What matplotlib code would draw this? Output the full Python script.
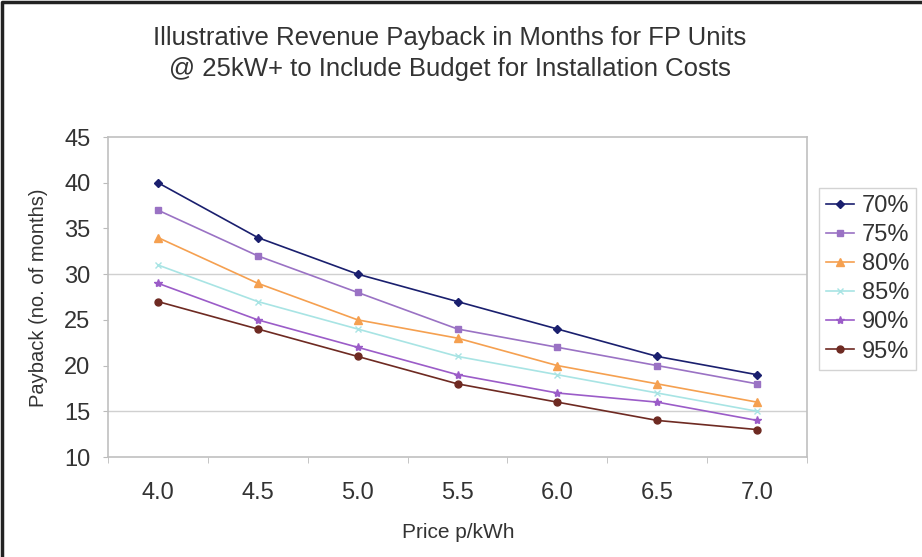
import matplotlib
matplotlib.use("Agg")
import matplotlib.pyplot as plt
from matplotlib.lines import Line2D
import numpy as np

plt.rcParams['font.family'] = ['Liberation Sans', 'DejaVu Sans']

prices = ["4.0", "4.5", "5.0", "5.5", "6.0", "6.5", "7.0"]
s70 = [40, 34, 30, 27, 24, 21, 19]
s75 = [37, 32, 28, 24, 22, 20, 18]
s80 = [34, 29, 25, 23, 20, 18, 16]
s85 = [31, 27, 24, 21, 19, 17, 15]
s90 = [29, 25, 22, 19, 17, 16, 14]
s95 = [27, 24, 21, 18, 16, 14, 13]
labels = ["70%", "75%", "80%", "85%", "90%", "95%"]
series = [s70, s75, s80, s85, s90, s95]
colors = ["#1a1f6e", "#9a72c4", "#f5a050", "#a8e4e4", "#9b5cc8", "#6e2a22"]
markers = ["D", "s", "^", "x", "*", "o"]
msizes = [4, 5, 6, 5, 6, 5]

W, H = 922, 557
fig = plt.figure(figsize=(W / 100, H / 100), dpi=100)
ax = fig.add_axes([108 / W, 1 - 457 / H, (807 - 108) / W, (457 - 137) / H])

x = np.arange(len(prices))
for vals, lab, c, m, ms in zip(series, labels, colors, markers, msizes):
    ax.plot(x, vals, color=c, marker=m, markersize=ms, linewidth=1.2, label=lab)

ax.set_xlim(-0.5, len(prices) - 0.5)
ax.set_ylim(10, 45)
ax.set_yticks(range(10, 46, 5))
ax.set_xticks(x)
ax.set_xticklabels(prices)
ax.set_xticks(np.arange(-0.5, len(prices), 1), minor=True)
ax.tick_params(axis='x', which='major', length=0, pad=18, labelsize=17)
ax.tick_params(axis='x', which='minor', length=4, color='#bbbbbb')
ax.tick_params(axis='y', length=3.6, color='#bbbbbb', labelsize=17, pad=9)
for t in ax.get_yticklabels() + ax.get_xticklabels():
    t.set_color('#333333')
for yv in [15, 30]:
    ax.axhline(yv, color='#d0d0d0', linewidth=1, zorder=0)
for sp in ax.spines.values():
    sp.set_color('#c0c0c0')
    sp.set_linewidth(1.2)

fig.text(458 / W, 1 - 533 / H, "Price p/kWh", ha='center', va='center',
         fontsize=15, color='#333333')
fig.text(38 / W, 1 - 298 / H, "Payback (no. of months)", ha='center', va='center',
         rotation=90, fontsize=14.5, color='#333333')

fig.text(450 / W, 1 - 45 / H, "Illustrative Revenue Payback in Months for FP Units",
         ha='center', va='baseline', fontsize=18.5, color='#333333')
fig.text(450 / W, 1 - 76 / H, "@ 25kW+ to Include Budget for Installation Costs",
         ha='center', va='baseline', fontsize=18.5, color='#333333')

leg = ax.legend(loc='upper left', bbox_to_anchor=(819 / W, 1 - 188 / H),
                bbox_transform=fig.transFigure, frameon=True, fancybox=False,
                fontsize=17, handlelength=1.2, handletextpad=0.3,
                borderpad=0.3, labelspacing=0.3, borderaxespad=0)
leg.get_frame().set_edgecolor('#c8c8c8')
leg.get_frame().set_linewidth(1)
for t in leg.get_texts():
    t.set_color('#333333')

# outer chart frame (top and left edges)
fig.add_artist(Line2D([2 / W, 2 / W, 1], [0, 1 - 2 / H, 1 - 2 / H],
                      transform=fig.transFigure, color='#222222', linewidth=2.5))

fig.savefig("out.png", dpi=100)
